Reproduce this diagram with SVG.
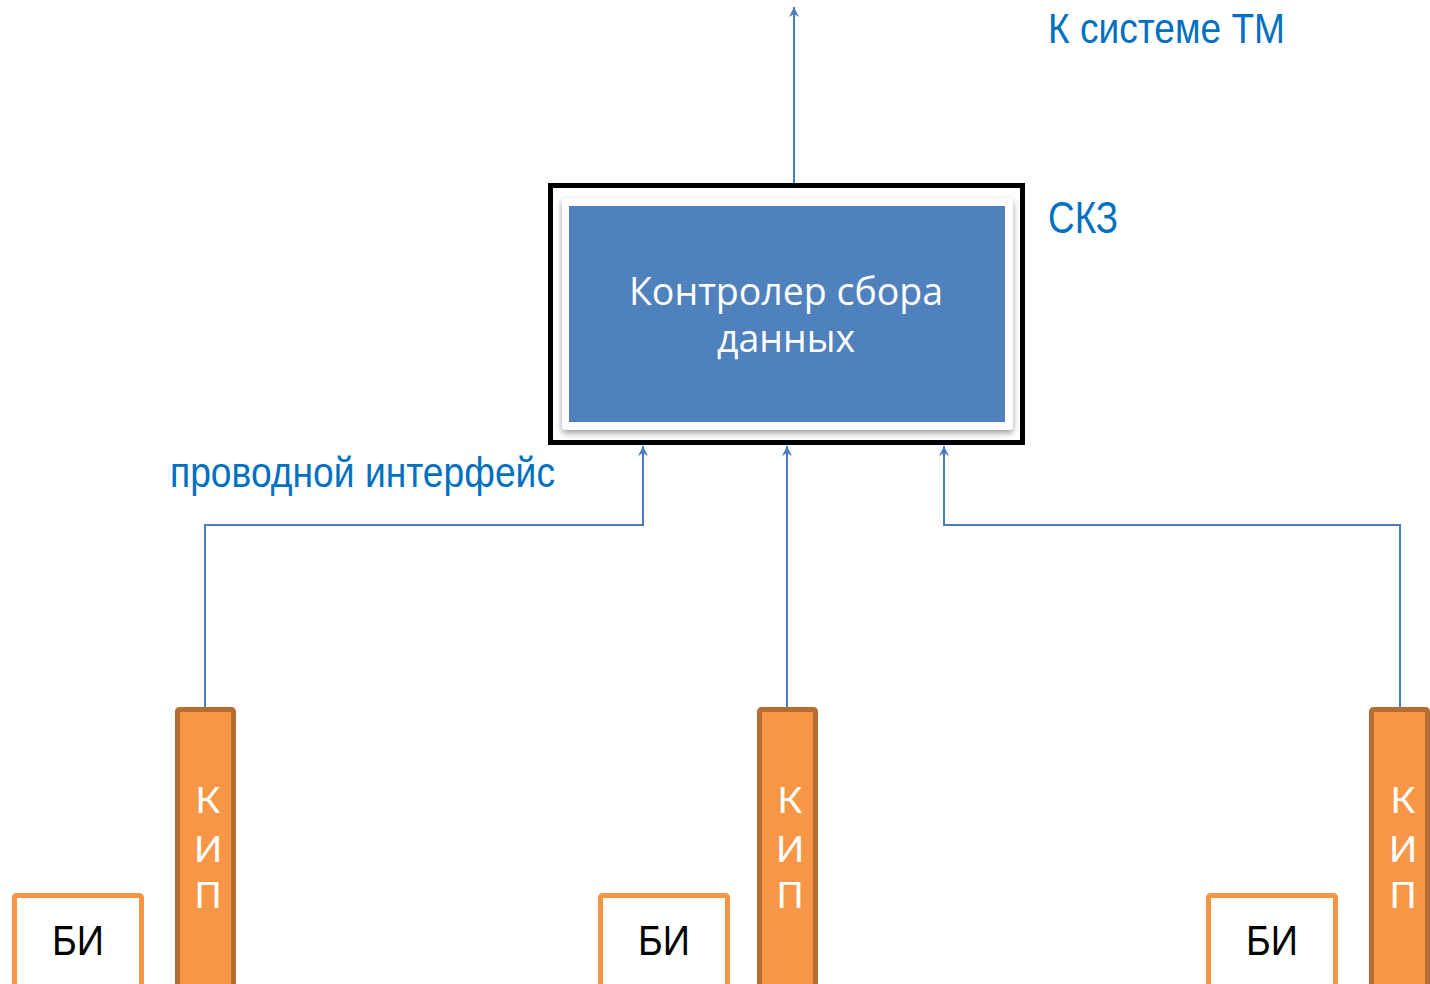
<svg xmlns="http://www.w3.org/2000/svg" width="1430" height="984" viewBox="0 0 1430 984">
<style>
.lbl{font-family:"Liberation Sans",Arial,sans-serif;fill:#0070C0;}
.wire{fill:none;stroke:#4A7EBB;stroke-width:2;}
.kip{fill:#F79646;stroke:#B66D31;stroke-width:5;}
.kipt{font-family:Lato,"Liberation Sans",sans-serif;fill:#FFFFFF;font-size:37px;text-anchor:middle;}
.bi{fill:#FFFFFF;stroke:#F79646;stroke-width:5;}
.bit{font-family:"Liberation Sans",Arial,sans-serif;fill:#000000;font-size:42px;text-anchor:middle;}
</style>
<defs>
<marker id="arr" viewBox="0 0 10 12" refX="10" refY="6" markerWidth="10" markerHeight="12" markerUnits="userSpaceOnUse" orient="auto">
<path d="M0,1 L10,6 L0,11 L3,6 Z" fill="#4A7EBB"/>
</marker>
<filter id="sh" x="-5%" y="-5%" width="110%" height="115%">
<feGaussianBlur in="SourceAlpha" stdDeviation="3"/>
<feOffset dx="0" dy="3"/>
<feComponentTransfer><feFuncA type="linear" slope="0.4"/></feComponentTransfer>
<feMerge><feMergeNode/><feMergeNode in="SourceGraphic"/></feMerge>
</filter>
</defs>
<rect width="1430" height="984" fill="#FFFFFF"/>

<g id="connectors">
<path class="wire" d="M794,184 V7" marker-end="url(#arr)"/>
<path class="wire" d="M205,708 V525 H643 V446" marker-end="url(#arr)"/>
<path class="wire" d="M787,708 V446" marker-end="url(#arr)"/>
<path class="wire" d="M1400,708 V525 H944 V446" marker-end="url(#arr)"/>
</g>

<g id="skz">
<rect x="550.5" y="185.5" width="472" height="257" fill="#FFFFFF" stroke="#000000" stroke-width="5"/>
<rect x="562" y="198" width="451" height="232" rx="4" fill="#FFFFFF" filter="url(#sh)"/>
<rect x="569" y="206" width="436" height="216" fill="#4F81BD"/>
<text x="786" y="305" font-family="'Open Sans','Noto Sans',sans-serif" font-size="38" fill="#FFFFFF" text-anchor="middle" textLength="314" lengthAdjust="spacingAndGlyphs">Контролер сбора</text>
<text x="786" y="352" font-family="'Open Sans','Noto Sans',sans-serif" font-size="38" fill="#FFFFFF" text-anchor="middle" textLength="138" lengthAdjust="spacingAndGlyphs">данных</text>
</g>

<g id="label-tm"><text class="lbl" x="1048" y="43" font-size="43" textLength="237" lengthAdjust="spacingAndGlyphs">К системе ТМ</text></g>
<g id="label-skz"><text class="lbl" x="1048" y="233" font-size="44" textLength="70" lengthAdjust="spacingAndGlyphs">СКЗ</text></g>
<g id="label-wire"><text class="lbl" x="170" y="487" font-size="43" textLength="385" lengthAdjust="spacingAndGlyphs">проводной интерфейс</text></g>

<g id="kip1">
<rect class="kip" x="177.5" y="709.5" width="56" height="290" rx="2"/>
<text class="kipt"><tspan x="208" y="813">К</tspan><tspan x="208" y="862">И</tspan><tspan x="208" y="908">П</tspan></text>
</g>
<g id="kip2">
<rect class="kip" x="759.5" y="709.5" width="56" height="290" rx="2"/>
<text class="kipt"><tspan x="790" y="813">К</tspan><tspan x="790" y="862">И</tspan><tspan x="790" y="908">П</tspan></text>
</g>
<g id="kip3">
<rect class="kip" x="1371.5" y="709.5" width="56" height="290" rx="2"/>
<text class="kipt"><tspan x="1403" y="813">К</tspan><tspan x="1403" y="862">И</tspan><tspan x="1403" y="908">П</tspan></text>
</g>

<g id="bi1">
<rect class="bi" x="14.5" y="895.5" width="127" height="100" rx="2"/>
<text class="bit" x="78" y="955" textLength="52" lengthAdjust="spacingAndGlyphs">БИ</text>
</g>
<g id="bi2">
<rect class="bi" x="600.5" y="895.5" width="127" height="100" rx="2"/>
<text class="bit" x="664" y="955" textLength="52" lengthAdjust="spacingAndGlyphs">БИ</text>
</g>
<g id="bi3">
<rect class="bi" x="1208.5" y="895.5" width="127" height="100" rx="2"/>
<text class="bit" x="1272" y="955" textLength="52" lengthAdjust="spacingAndGlyphs">БИ</text>
</g>
</svg>
